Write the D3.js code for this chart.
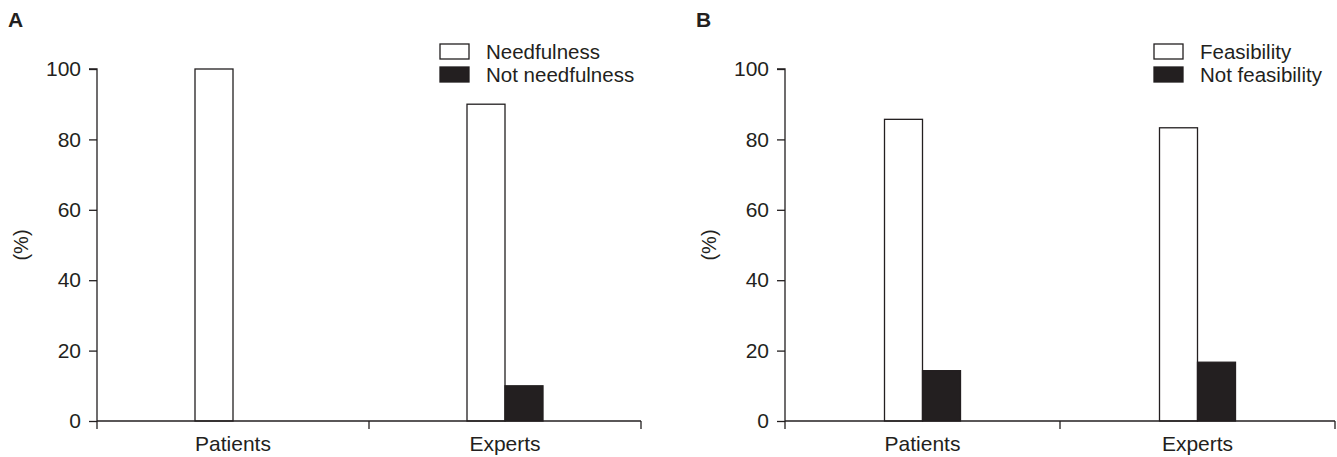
<!doctype html>
<html>
<head>
	<style>
		body{margin:0;background:#fff;}
		text{font-family:"Liberation Sans",Arial,sans-serif;fill:#231f20;}
		.axis path,.axis line{stroke:#231f20;stroke-width:1.3;}
		.axis text{font-size:21px;}
	</style>
</head>
<body>
	<div id="root"></div>
	<script src="https://d3js.org/d3.v7.min.js"></script>
	<script>
		var categories = ['Patients', 'Experts'];
		var seriesA = ['Needfulness', 'Not needfulness'];
		var valuesA = [[100, 0], [90, 10]];
		var seriesB = ['Feasibility', 'Not feasibility'];
		var valuesB = [[85.7, 14.3], [83.3, 16.7]];
		var yTicks = [0, 20, 40, 60, 80, 100];

		var WIDTH = 1337, HEIGHT = 457;
		var BAR_W = 38;
		var colors = ['#fff', '#231f20'];

		var svg = d3.select('#root').append('svg')
			.attr('width', WIDTH)
			.attr('height', HEIGHT);

		function panel(letter, left, right, legendX, series, values) {
			var g = svg.append('g');

			var y = d3.scaleLinear().domain([0, 100]).range([421, 69]);
			var x = d3.scaleBand().domain(categories).range([left, right]);
			var bw = x.bandwidth();
			var x1 = d3.scaleBand().domain(series).range([bw / 2 - BAR_W, bw / 2 + BAR_W]);

			g.append('text')
				.attr('x', left - 89)
				.attr('y', 27)
				.style('font-size', '21px')
				.style('font-weight', 'bold')
				.text(letter);

			g.append('text')
				.attr('transform', 'translate(' + (left - 69) + ',245) rotate(-90)')
				.attr('text-anchor', 'middle')
				.style('font-size', '20px')
				.text('(%)');

			var groups = g.selectAll('g.grp')
				.data(categories)
				.enter().append('g')
				.attr('class', 'grp')
				.attr('transform', function(d){ return 'translate(' + x(d) + ',0)'; });

			groups.selectAll('rect')
				.data(function(d, i){ return series.map(function(s, j){ return {s: s, v: values[i][j], j: j}; }); })
				.enter().append('rect')
				.attr('x', function(d){ return x1(d.s); })
				.attr('y', function(d){ return y(d.v); })
				.attr('width', x1.bandwidth())
				.attr('height', function(d){ return y(0) - y(d.v); })
				.attr('fill', function(d){ return colors[d.j]; })
				.attr('stroke', '#231f20')
				.attr('stroke-width', 1.3);

			g.append('g')
				.attr('class', 'axis')
				.attr('transform', 'translate(' + left + ',0)')
				.call(d3.axisLeft(y).tickValues(yTicks).tickSize(8).tickPadding(8).tickSizeOuter(0))
				.call(function(a){ a.select('.domain').attr('d', 'M0,' + y(0) + 'V' + y(100) + 'H-8'); });

			// x axis, ticks at the group edges
			var xa = g.append('g').attr('class', 'axis');
			xa.append('line')
				.attr('x1', left).attr('x2', right)
				.attr('y1', y(0)).attr('y2', y(0));
			xa.selectAll('line.tk')
				.data([left, left + bw, right])
				.enter().append('line')
				.attr('class', 'tk')
				.attr('x1', function(d){ return d; }).attr('x2', function(d){ return d; })
				.attr('y1', y(0)).attr('y2', y(0) + 8);
			xa.selectAll('text')
				.data(categories)
				.enter().append('text')
				.attr('x', function(d){ return x(d) + bw / 2; })
				.attr('y', 451)
				.attr('text-anchor', 'middle')
				.text(function(d){ return d; });

			var lg = g.selectAll('g.leg')
				.data(series)
				.enter().append('g')
				.attr('class', 'leg')
				.attr('transform', function(d, i){ return 'translate(' + legendX + ',' + (44 + i * 23) + ')'; });
			lg.append('rect')
				.attr('width', 29)
				.attr('height', 15)
				.attr('fill', function(d, i){ return colors[i]; })
				.attr('stroke', '#231f20')
				.attr('stroke-width', 1.3);
			lg.append('text')
				.attr('x', 46)
				.attr('y', 15)
				.style('font-size', '20.5px')
				.text(function(d){ return d; });
		}

		panel('A', 97, 641, 440, seriesA, valuesA);
		panel('B', 785, 1335, 1154, seriesB, valuesB);
	</script>
</body>
</html>
